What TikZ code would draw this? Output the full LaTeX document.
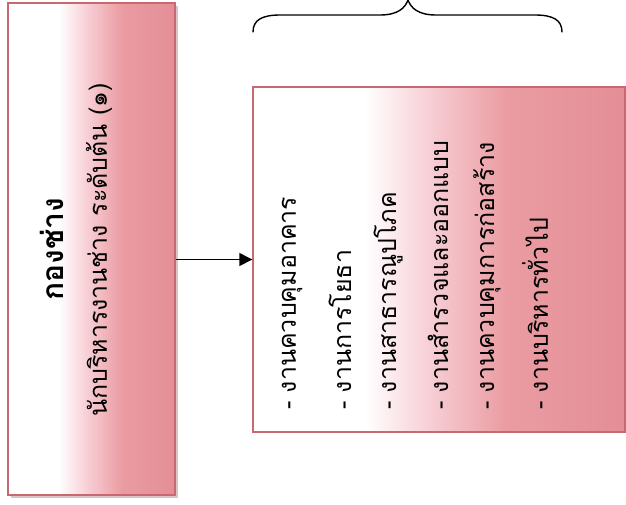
\documentclass[tikz,border=0pt]{standalone}
\usepackage{fontspec}
\newfontfamily\thaifont[Script=Thai]{Loma}
\usetikzlibrary{arrows.meta}
\definecolor{pinkc}{RGB}{234,156,162}
\definecolor{pinkd}{RGB}{228,142,150}
\definecolor{pinkl}{RGB}{247,205,212}
\definecolor{bordc}{RGB}{200,104,112}
\pgfdeclarehorizontalshading{boxshade}{100bp}{color(0bp)=(white); color(40bp)=(white); color(49bp)=(pinkl); color(59bp)=(pinkc); color(75bp)=(pinkd); color(100bp)=(pinkd)}
\tikzset{
  panel/.style={draw=bordc, line width=1.4pt, shading=boxshade, shading angle=0, inner sep=0pt},
  rtext/.style={rotate=90, font=\thaifont, inner sep=0pt},
  item/.style={rtext, anchor=west, font=\thaifont\fontsize{25}{28}\selectfont},
  conn/.style={line width=1.4pt, -{Triangle[length=13pt,width=13pt]}},
  bracec/.style={line width=1.4pt, line cap=round}
}
\begin{document}
\begin{tikzpicture}[x=1pt,y=-1pt]
\useasboundingbox (0,0) rectangle (626,504);
\fill[bordc!80!black, opacity=0.35] (11,6) rectangle (178,498);
\node[panel, minimum width=167pt, minimum height=492pt] (leftbox) at (91.5,249) {};
\node[panel, minimum width=372pt, minimum height=345pt] (rightbox) at (439,259.5) {};
\node[rtext, font=\thaifont\bfseries\fontsize{30}{32}\selectfont] (title) at (52,249) {กองช่าง};
\node[rtext, font=\thaifont\fontsize{25}{28}\selectfont] (subtitle) at (99,250) {นักบริหารงานช่าง ระดับต้น (๑)};
\node[item] (i1) at (292,410) {- งานควบคุมอาคาร};
\node[item] (i2) at (340,410) {- งานการโยธา};
\node[item] (i3) at (388,410) {- งานสาธารณูปโภค};
\node[item] (i4) at (438,410) {- งานสำรวจและออกแบบ};
\node[item] (i5) at (487,410) {- งานควบคุมการก่อสร้าง};
\node[item] (i6) at (535,410) {- งานบริหารทั่วไป};
\draw[conn] (leftbox.east |- rightbox.west) -- (rightbox.west);
\coordinate (bl) at (253,32);
\coordinate (br) at (562,32);
\coordinate (bt) at (408,0);
\draw[bracec] (bl) .. controls (253,20) and (262,15) .. (280,15) -- (380,15) .. controls (398,15) and (405,8) .. (bt)
  .. controls (411,8) and (418,15) .. (436,15) -- (535,15) .. controls (553,15) and (562,20) .. (br);
\end{tikzpicture}
\end{document}
